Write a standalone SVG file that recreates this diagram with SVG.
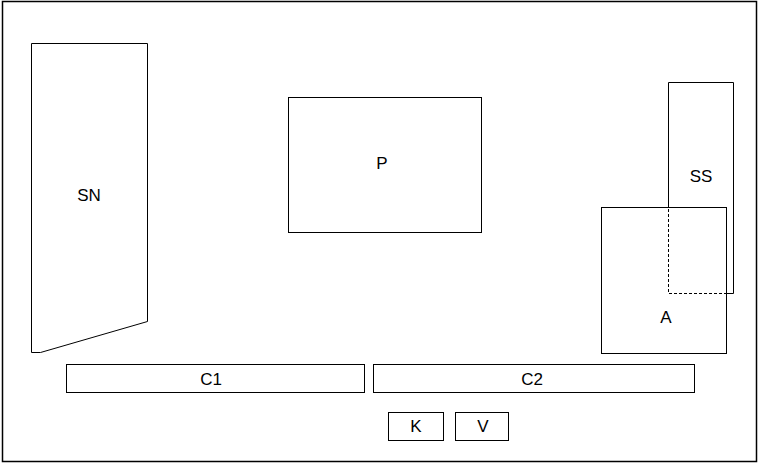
<svg xmlns="http://www.w3.org/2000/svg" width="758" height="465" viewBox="0 0 758 465">
<style>
.s{fill:none;stroke:#000;stroke-width:1}
.t{font-family:"Liberation Sans",Arial,sans-serif;font-size:17px;fill:#000;text-anchor:middle}
</style>
<rect x="0" y="0" width="758" height="465" fill="#fff"/>
<rect id="frame" class="s" x="2.5" y="1.5" width="754" height="460" style="stroke-width:1.5"/>
<g id="SN"><polygon class="s" points="31.5,43.5 147.5,43.5 147.5,321.5 40.5,352.5 31.5,352.5"/><text class="t" x="89" y="201">SN</text></g>
<g id="P"><rect class="s" x="288.5" y="97.5" width="193" height="135"/><text class="t" x="382" y="169">P</text></g>
<g id="SS"><path class="s" d="M668.5,207 V82.5 H733.5 V293.5 H727"/><path class="s" stroke-dasharray="3,2" d="M727,293.5 H668.5 V207"/><text class="t" x="701" y="182">SS</text></g>
<g id="A"><rect class="s" x="601.5" y="207.5" width="125" height="146"/><text class="t" x="666" y="323">A</text></g>
<g id="C1"><rect class="s" x="66.5" y="364.5" width="298" height="28"/><text class="t" x="211" y="385">C1</text></g>
<g id="C2"><rect class="s" x="373.5" y="364.5" width="321" height="28"/><text class="t" x="532" y="385">C2</text></g>
<g id="K"><rect class="s" x="388.5" y="412.5" width="55" height="28"/><text class="t" x="416" y="432">K</text></g>
<g id="V"><rect class="s" x="455.5" y="412.5" width="53" height="28"/><text class="t" x="483" y="432">V</text></g>
<g id="connectors"></g>
</svg>
